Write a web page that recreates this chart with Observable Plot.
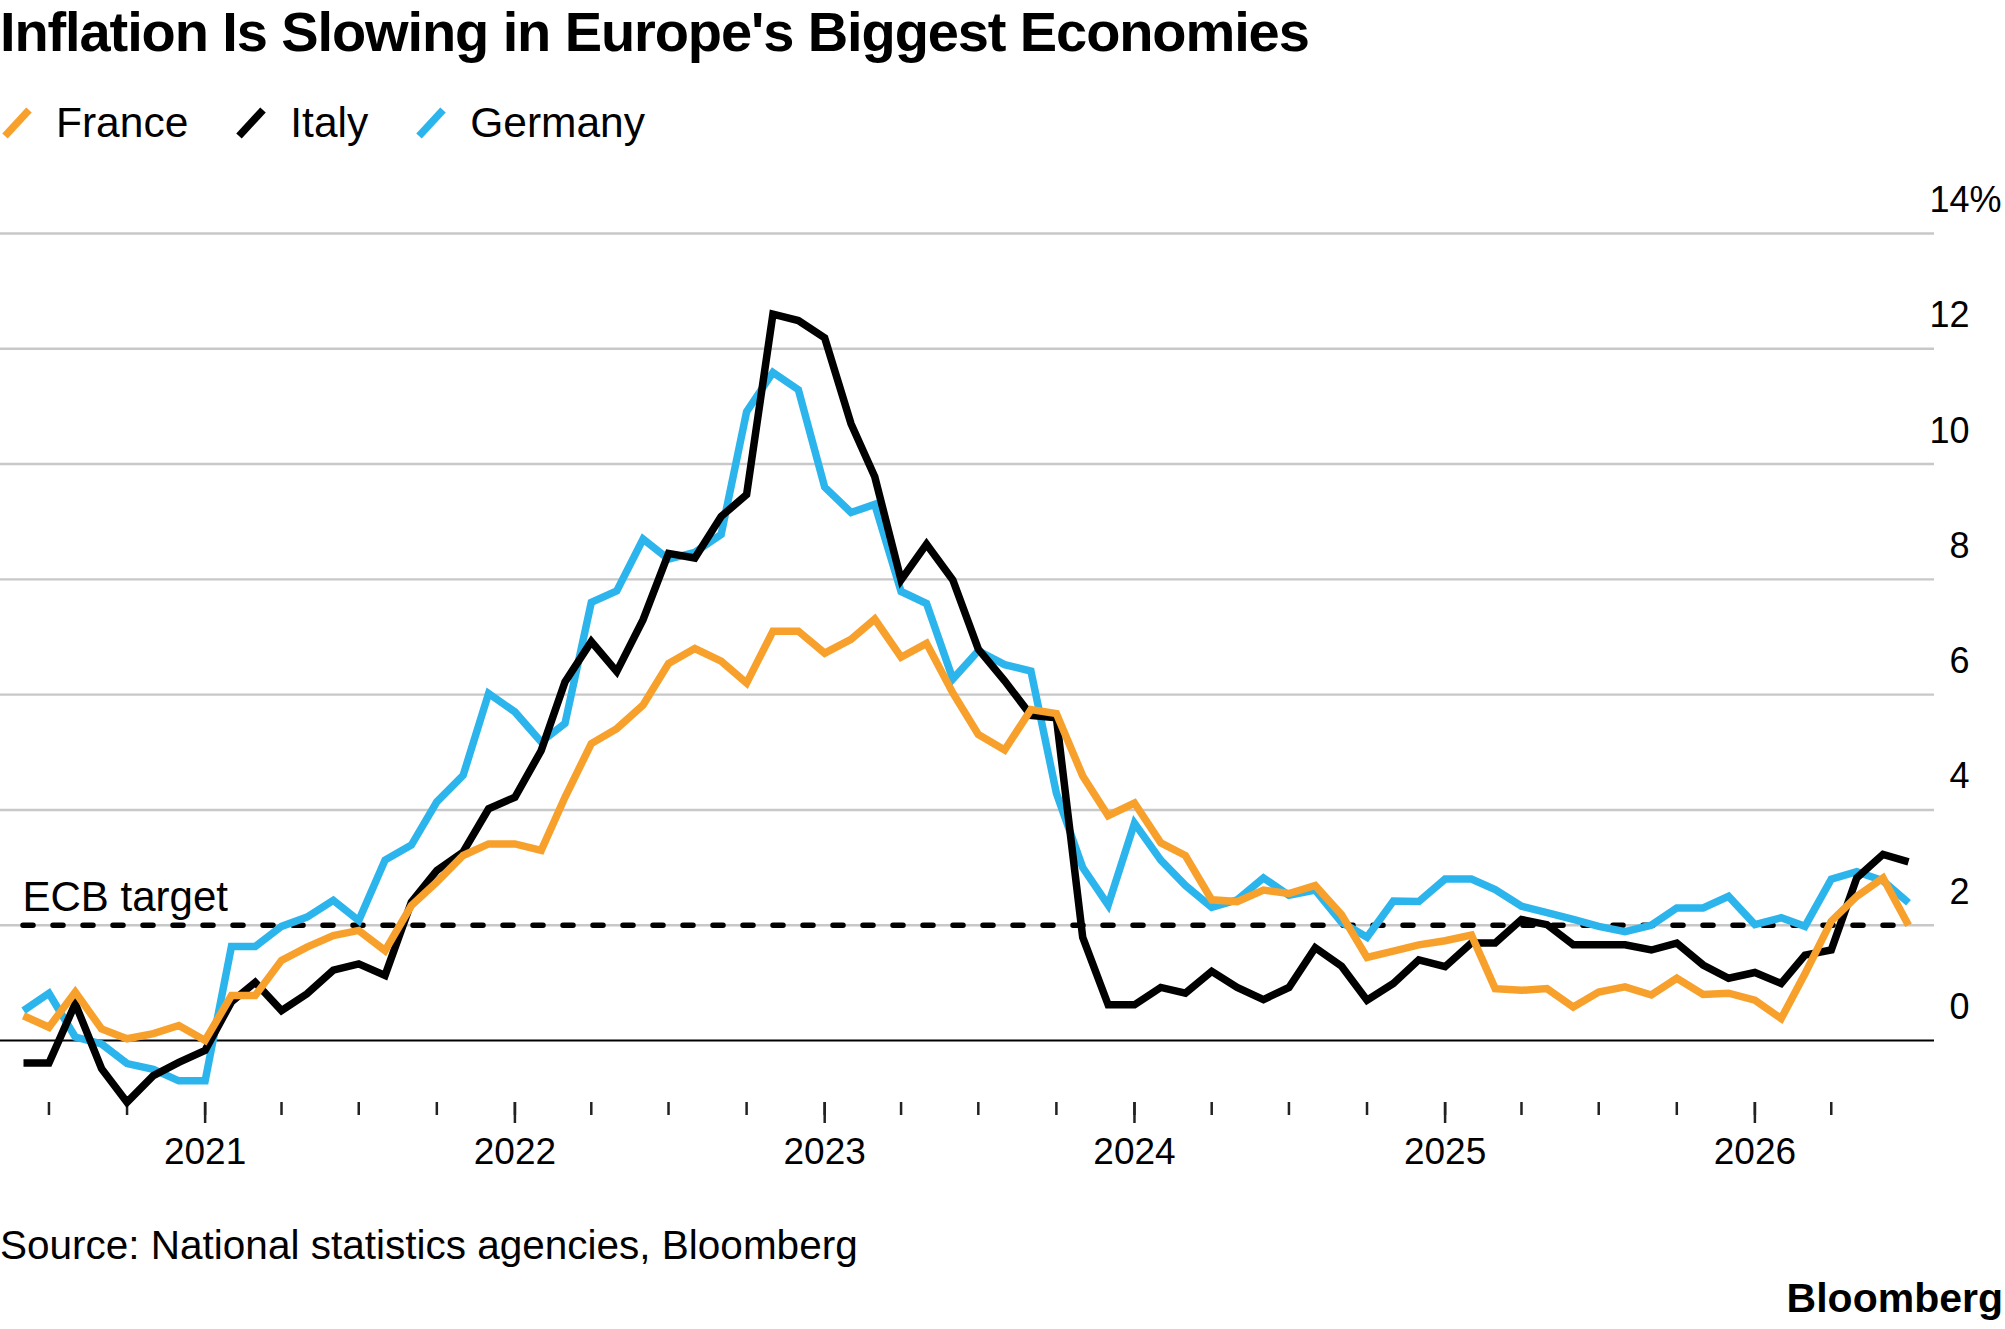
<!DOCTYPE html>
<html>
<head>
<meta charset="utf-8">
<script src="https://cdn.jsdelivr.net/npm/d3@7"></script>
<script src="https://cdn.jsdelivr.net/npm/@observablehq/plot@0.6"></script>
<style>
  html, body { margin: 0; padding: 0; background: #fff; }
  body { width: 2005px; height: 1329px; position: relative; overflow: hidden;
         font-family: "Liberation Sans", Arial, Helvetica, sans-serif; color: #000; }
  #title { position: absolute; left: 0; top: 4px; font-size: 56px; line-height: 56px;
           font-weight: bold; letter-spacing: -1.1px; white-space: nowrap; }
  #legend { position: absolute; left: 0; top: 102px; display: flex; align-items: center;
            font-size: 42.5px; line-height: 42px; white-space: nowrap; }
  .item { display: flex; align-items: center; margin-right: 46px; }
  .item svg { margin-left: 2px; }
  .item span { margin-left: 24px; }
  #chart { position: absolute; left: 0; top: 170px; }
  #source { position: absolute; left: 0; top: 1225px; font-size: 40.5px; line-height: 41px; white-space: nowrap; }
  #brand { position: absolute; right: 2px; top: 1278px; font-size: 41px; line-height: 41px; font-weight: bold; }
</style>
</head>
<body>
<div id="title">Inflation Is Slowing in Europe's Biggest Economies</div>
<div id="legend"></div>
<div id="chart"></div>
<div id="source">Source: National statistics agencies, Bloomberg</div>
<div id="brand">Bloomberg</div>
<script>
// ---- data ----
const countries = ["France", "Italy", "Germany"];
const colors = ["#f7a12c", "#000000", "#2cb5ec"];
const drawOrder = ["Germany", "Italy", "France"];
const startMonth = "2020-06-01";

const france = [0.43, 0.23, 0.84, 0.20, 0.03, 0.12, 0.26, 0.00, 0.78, 0.78,
  1.39, 1.62, 1.82, 1.91, 1.56, 2.34, 2.75, 3.21, 3.41, 3.41,
  3.30, 4.22, 5.15, 5.41, 5.82, 6.54, 6.80, 6.58, 6.20, 7.10,
  7.10, 6.72, 6.96, 7.31, 6.65, 6.89, 6.03, 5.31, 5.04, 5.74,
  5.67, 4.59, 3.90, 4.12, 3.43, 3.21, 2.44, 2.41, 2.61, 2.55,
  2.69, 2.18, 1.44, 1.55, 1.66, 1.73, 1.83, 0.90, 0.87, 0.90,
  0.58, 0.84, 0.93, 0.79, 1.08, 0.80, 0.82, 0.70, 0.38, 1.16,
  2.07, 2.50, 2.82, 2.00];

const italy = [-0.39, -0.39, 0.64, -0.49, -1.07, -0.61, -0.38, -0.17, 0.67, 1.01,
  0.52, 0.81, 1.22, 1.33, 1.13, 2.40, 2.95, 3.27, 4.02, 4.22,
  5.03, 6.22, 6.92, 6.40, 7.30, 8.45, 8.37, 9.09, 9.47, 12.60,
  12.49, 12.19, 10.70, 9.78, 7.99, 8.61, 7.99, 6.79, 6.24, 5.64,
  5.60, 1.79, 0.62, 0.62, 0.92, 0.82, 1.20, 0.92, 0.71, 0.92,
  1.61, 1.29, 0.70, 0.99, 1.40, 1.28, 1.69, 1.69, 2.10, 2.01,
  1.66, 1.66, 1.66, 1.57, 1.69, 1.31, 1.08, 1.18, 0.99, 1.48,
  1.57, 2.82, 3.23, 3.10];

const germany = [0.52, 0.82, 0.06, -0.06, -0.40, -0.50, -0.70, -0.70, 1.63, 1.63,
  1.98, 2.14, 2.43, 2.08, 3.13, 3.39, 4.14, 4.60, 6.02, 5.70,
  5.18, 5.50, 7.60, 7.80, 8.70, 8.35, 8.47, 8.78, 10.91, 11.59,
  11.29, 9.60, 9.16, 9.30, 7.79, 7.58, 6.27, 6.76, 6.52, 6.41,
  4.29, 3.00, 2.35, 3.77, 3.13, 2.69, 2.31, 2.44, 2.82, 2.52,
  2.61, 2.05, 1.79, 2.42, 2.41, 2.80, 2.80, 2.62, 2.33, 2.22,
  2.10, 1.98, 1.89, 2.00, 2.30, 2.30, 2.50, 2.01, 2.13, 1.98,
  2.80, 2.93, 2.77, 2.39];

const yTicks = [0, 2, 4, 6, 8, 10, 12, 14];
const yearLabels = ["2021", "2022", "2023", "2024", "2025", "2026"];
const ecbTarget = 2;
const ecbLabel = "ECB target";

// ---- derived tables ----
const seriesValues = {France: france, Italy: italy, Germany: germany};
const months = d3.utcMonth.range(new Date(startMonth), d3.utcMonth.offset(new Date(startMonth), france.length));
const rows = drawOrder.flatMap(c => seriesValues[c].map((v, i) => ({date: months[i], country: c, value: v})));
const quarterTicks = d3.utcMonth.every(3).range(new Date("2020-07-01"), months[months.length - 1]);
const yearTicks = yearLabels.map(y => new Date(`${y}-01-01`));

// ---- legend ----
const legend = document.getElementById("legend");
countries.forEach((c, i) => {
  const item = document.createElement("div");
  item.className = "item";
  item.innerHTML = `<svg width="30" height="32" viewBox="0 0 30 32"><line x1="3" y1="29" x2="27" y2="3" stroke="${colors[i]}" stroke-width="7.5"/></svg><span>${c}</span>`;
  legend.appendChild(item);
});

// ---- chart ----
const fam = "'Liberation Sans', Arial, Helvetica, sans-serif";
const chart = Plot.plot({
  width: 2005,
  height: 1030,
  marginTop: 0,
  marginLeft: 0,
  marginRight: 71,
  marginBottom: 98,
  style: {fontFamily: fam, fontSize: "37px", color: "#000", background: "transparent", overflow: "visible"},
  x: {type: "utc", domain: [months[0], months[months.length - 1]], range: [23, 1908], axis: null},
  y: {domain: [0, 14], range: [870, 63], axis: null},
  color: {domain: countries, range: colors},
  marks: [
    Plot.gridY(yTicks.filter(d => d !== 0), {stroke: "#c8c8c8", strokeOpacity: 1, strokeWidth: 2.4}),
    Plot.ruleY([0], {stroke: "#000", strokeWidth: 2.2}),
    Plot.axisX(quarterTicks, {tickSize: 13, tickFormat: () => "", stroke: "#222", strokeWidth: 2.5}),
    Plot.axisX(yearTicks, {tickSize: 21, tickPadding: 14, stroke: "#222", strokeWidth: 2.5,
      tickFormat: d => yearLabels[yearTicks.findIndex(t => +t === +d)], fontSize: 37}),
    Plot.ruleY([ecbTarget], {x1: () => months[0], x2: () => months[months.length - 1],
      stroke: "#000", strokeWidth: 5.5, strokeDasharray: "10,20", strokeLinecap: "round"}),
    Plot.line(rows, {x: "date", y: "value", z: "country", stroke: "country",
      strokeWidth: 7.5, strokeLinejoin: "miter", strokeMiterlimit: 3, strokeLinecap: "butt"}),
    Plot.text([ecbLabel], {x: () => months[0], y: () => ecbTarget, text: d => d,
      textAnchor: "start", lineAnchor: "bottom", dx: -1, dy: -14, fontSize: 42}),
    Plot.text(yTicks, {y: d => d, frameAnchor: "right", text: d => String(d),
      textAnchor: "end", lineAnchor: "middle", dx: 35, dy: -33, fontSize: 36}),
    Plot.text([yTicks[yTicks.length - 1]], {y: d => d, frameAnchor: "right", text: () => "%",
      textAnchor: "start", lineAnchor: "middle", dx: 35, dy: -33, fontSize: 36})
  ]
});
document.getElementById("chart").appendChild(chart);
</script>
</body>
</html>
